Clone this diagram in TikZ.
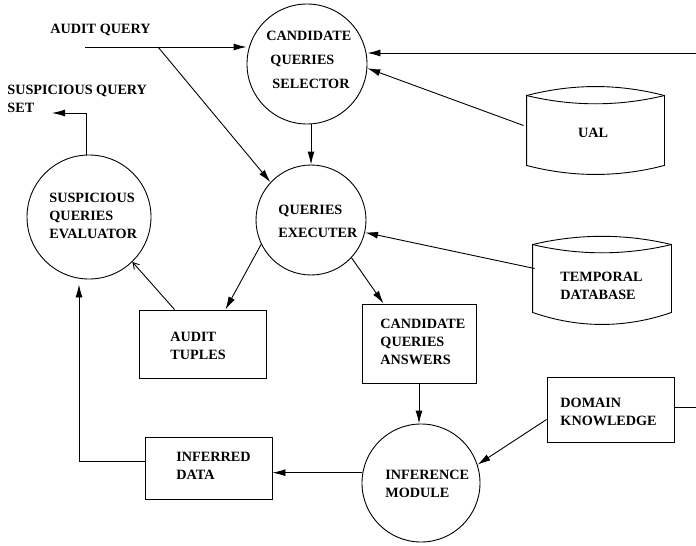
\documentclass[tikz,border=0pt]{standalone}
\usepackage{fontspec}
\setmainfont{Liberation Serif}
\usetikzlibrary{arrows.meta,calc}
\begin{document}
\begin{tikzpicture}[x=1pt,y=-1pt,line width=0.9pt,
  proc/.style={draw,circle,inner sep=0pt},
  store/.style={draw,rectangle,inner sep=0pt},
  dbarea/.style={rectangle,inner sep=0pt},
  lbl/.style={anchor=west,align=left,inner sep=0pt,
    font=\fontsize{14.2}{18}\selectfont\bfseries},
  arr/.style={-{Latex[length=13pt,width=7pt]}},
  openarr/.style={-{Straight Barb[length=6pt,width=7pt]}}]

\useasboundingbox (0,0) rectangle (696,546);

% processes
\node[proc,minimum size=120] (sel) at (307,64) {};
\node[proc,minimum size=110] (exe) at (311,220) {};
\node[proc,minimum size=124] (eval) at (89,217) {};
\node[proc,minimum size=118] (inf) at (421,483) {};

% data stores
\node[store,minimum width=114,minimum height=79] (cqa) at (419,343.5) {};
\node[store,minimum width=127,minimum height=68] (at) at (202.5,344) {};
\node[store,minimum width=127,minimum height=65] (dk) at (610.5,409.5) {};
\node[store,minimum width=127,minimum height=62] (id) at (208.5,468) {};

% databases (cylinders)
\node[dbarea,minimum width=137,minimum height=69] (ual) at (595.5,130.5) {};
\node[dbarea,minimum width=138,minimum height=67] (tdb) at (602,278.5) {};
\draw (ual.north west) .. controls +(46,-12) and +(-46,-12) .. (ual.north east)
  -- (ual.south east) .. controls +(-46,12) and +(46,12) .. (ual.south west) -- cycle;
\draw (ual.north west) .. controls +(46,11) and +(-46,11) .. (ual.north east);
\draw (tdb.north west) .. controls +(46,-11) and +(-46,-11) .. (tdb.north east)
  -- (tdb.south east) .. controls +(-46,16) and +(46,16) .. (tdb.south west) -- cycle;
\draw (tdb.north west) .. controls +(46,11) and +(-46,11) .. (tdb.north east);

% labels
\node[lbl] (aqt) at (50,30) {AUDIT QUERY};
\node[lbl] (sqs) at (7,99) {SUSPICIOUS QUERY\\SET};
\node[lbl] (selt) at (266,60) {CANDIDATE\\[6pt]\hspace*{4pt}QUERIES\\[6pt]\hspace*{6pt}SELECTOR};
\node[lbl] (evalt) at (49,216) {SUSPICIOUS\\QUERIES\\EVALUATOR};
\node[lbl] (exet) at (278,221.5) {QUERIES\\[5pt]EXECUTER};
\node[lbl,anchor=center] (ualt) at (593,133) {UAL};
\node[lbl] (tdbt) at (560,285.5) {TEMPORAL\\DATABASE};
\node[lbl] (cqat) at (380,342) {CANDIDATE\\QUERIES\\ANSWERS};
\node[lbl] (att) at (170,345.5) {AUDIT\\TUPLES};
\node[lbl] (dkt) at (560,411.5) {DOMAIN\\KNOWLEDGE};
\node[lbl] (idt) at (176,466) {INFERRED\\DATA};
\node[lbl] (inft) at (385,484) {INFERENCE\\MODULE};

% free ends
\coordinate (aq) at (85,47);
\coordinate (br) at (158,47);
\coordinate (rt) at (696,53);
\coordinate (re) at (696,407);
\coordinate (sqend) at (52,113);

% connectors
\draw[arr] (aq) -- (sel.west |- aq);
\draw[arr] (br) -- (exe.137);
\draw[arr] (sel.south -| exe.north) -- (exe.north);
\draw[arr] (rt) -- (sel.east |- rt);
\draw[arr] ($(ual.west)+(-3,-5)$) -- (sel.-4);
\draw[arr] ($(tdb.west)+(2,-10)$) -- (exe.-13);
\draw[arr] (exe.-43) -- ($(cqa.north west)+(22,0)$);
\draw[arr] (exe.206) -- ($(at.north east)+(-41,0)$);
\draw[openarr] ($(at.north west)+(36,0)$) -- (eval.-46);
\draw[arr] (cqa.south) -- (cqa.south |- inf.north);
\draw[arr] ($(dk.west)+(0,10)$) -- (inf.18);
\draw (dk.east |- re) -- (re);
\draw[arr] (inf.170) -- (inf.170 -| id.east);
\draw[arr] ($(id.west)+(0,-7)$) -| ($(eval.south)+(-10,5)$);
\draw[arr] ($(eval.north)+(-3,0)$) |- (sqend);
\end{tikzpicture}
\end{document}
